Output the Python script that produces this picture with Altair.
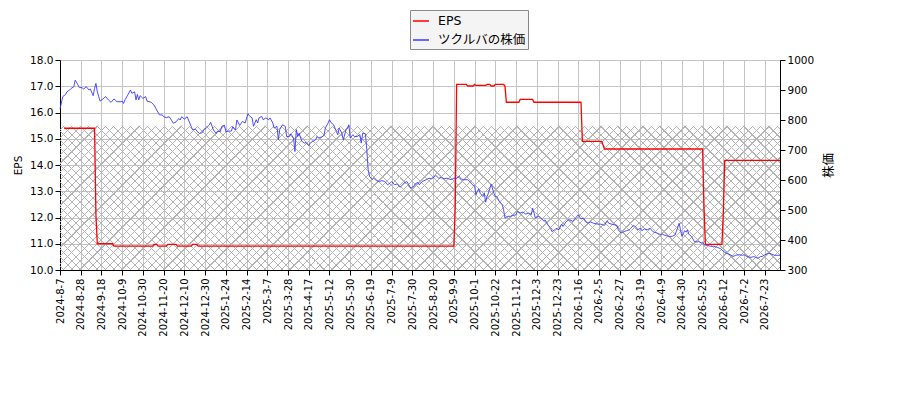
import json

import altair as alt
import numpy as np
import pandas as pd

# one tick label every 15 trading sessions, starting at session 0
tick_labels = [
    "2024-8-7", "2024-8-28", "2024-9-18", "2024-10-9", "2024-10-30",
    "2024-11-20", "2024-12-10", "2024-12-30", "2025-1-24", "2025-2-14",
    "2025-3-7", "2025-3-28", "2025-4-17", "2025-5-12", "2025-5-30",
    "2025-6-19", "2025-7-9", "2025-7-30", "2025-8-20", "2025-9-9",
    "2025-10-1", "2025-10-22", "2025-11-12", "2025-12-3", "2025-12-23",
    "2026-1-16", "2026-2-5", "2026-2-27", "2026-3-19", "2026-4-9",
    "2026-4-30", "2026-5-25", "2026-6-12", "2026-7-2", "2026-7-23",
]
tick_step = 15
last_day = 521

series_names = ["EPS", "ツクルバの株価"]

eps_day = [3, 25, 26, 27, 38, 39, 67, 68, 70, 71, 77, 78, 84, 85, 95, 96,
           99, 100, 285, 286, 287, 294, 295, 299, 300, 301, 308, 309, 311,
           312, 314, 315, 321, 322, 323, 332, 333, 342, 343, 377, 378, 392,
           394, 465, 466, 467, 479, 480, 481, 521]
eps_value = [15.4, 15.4, 12.1, 11.0, 11.0, 10.91, 10.91, 10.98, 10.98, 10.91,
             10.91, 10.98, 10.98, 10.91, 10.91, 10.98, 10.98, 10.91, 10.91,
             12.4, 17.07, 17.07, 17.01, 17.01, 17.07, 17.03, 17.03, 17.07,
             17.07, 17.01, 17.01, 17.07, 17.07, 17.0, 16.39, 16.39, 16.5,
             16.5, 16.39, 16.39, 14.9, 14.9, 14.61, 14.61, 12.4, 10.98,
             10.98, 12.2, 14.18, 14.18]

price_day = [
    0, 2, 4, 5, 7, 8, 10, 11, 13, 14, 16, 17, 19, 21, 22, 24, 25, 26, 27, 29,
    31, 33, 35, 37, 39, 40, 41, 44, 45, 46, 47, 49, 51, 52, 54, 55, 56, 57, 58,
    60, 62, 63, 66, 68, 70, 72, 74, 75, 77, 79, 81, 82, 84, 86, 87, 88, 90, 92,
    93, 95, 96, 98, 99, 101, 103, 104, 106, 108, 109, 111, 113, 114, 116, 117,
    119, 120, 122, 124, 125, 127, 128, 130, 132, 134, 136, 137, 139, 140, 142,
    143, 144, 146, 147, 149, 151, 152, 154, 155, 157, 158, 159, 161, 163, 164,
    166, 167, 169, 170, 171, 172, 173, 175, 177, 178, 180, 181, 183, 185, 186,
    187, 189, 191, 192, 194, 195, 196, 198, 200, 201, 202, 204, 205, 207, 208,
    209, 210, 212, 213, 215, 217, 218, 219, 221, 222, 223, 224, 226, 227, 229,
    231, 233, 235, 237, 239, 240, 242, 244, 246, 248, 249, 251, 253, 254, 256,
    257, 259, 260, 262, 265, 267, 269, 272, 274, 276, 278, 280, 283, 285, 287,
    289, 290, 292, 295, 297, 298, 300, 301, 302, 303, 304, 306, 307, 308, 309,
    310, 312, 314, 315, 316, 318, 320, 321, 322, 324, 326, 328, 330, 331, 333,
    335, 337, 339, 341, 342, 343, 344, 346, 348, 350, 351, 353, 355, 356, 358,
    359, 361, 363, 364, 366, 368, 369, 371, 373, 375, 377, 379, 380, 382, 384,
    386, 389, 391, 394, 396, 397, 399, 401, 403, 404, 406, 408, 410, 412, 413,
    415, 417, 418, 420, 421, 423, 425, 427, 429, 430, 432, 434, 436, 437, 439,
    441, 443, 445, 446, 448, 449, 450, 452, 453, 454, 455, 457, 459, 461, 462,
    464, 465, 466, 468, 471, 473, 476, 478, 480, 482, 485, 487, 489, 491, 494,
    495, 497, 500, 502, 505, 507, 508, 511, 513, 515, 517, 519, 521,
]
price_value = [
    837, 878, 885, 894, 900, 905, 911, 933, 917, 908, 908, 903, 911, 900, 903,
    881, 905, 922, 894, 863, 870, 878, 867, 859, 870, 867, 861, 861, 863, 855,
    867, 883, 900, 889, 894, 867, 885, 867, 881, 872, 878, 863, 859, 850, 833,
    817, 817, 811, 808, 811, 797, 789, 794, 805, 800, 811, 803, 811, 800, 778,
    767, 770, 763, 755, 758, 767, 774, 783, 792, 767, 755, 763, 761, 778, 783,
    761, 763, 763, 778, 767, 800, 782, 795, 790, 821, 814, 807, 779, 801, 790,
    807, 812, 801, 807, 801, 807, 790, 773, 779, 734, 768, 784, 779, 745, 745,
    754, 740, 695, 768, 745, 756, 729, 723, 725, 714, 723, 729, 734, 745, 740,
    743, 748, 773, 790, 801, 792, 784, 762, 751, 773, 756, 734, 768, 773, 784,
    740, 751, 745, 745, 751, 723, 756, 754, 701, 634, 612, 601, 606, 598, 595,
    598, 595, 584, 590, 595, 584, 587, 576, 584, 590, 595, 579, 573, 579, 587,
    592, 584, 595, 601, 606, 604, 615, 606, 608, 604, 606, 601, 606, 606, 612,
    604, 601, 601, 593, 586, 579, 551, 562, 571, 556, 545, 556, 526, 545, 556,
    586, 556, 545, 545, 528, 517, 501, 473, 479, 479, 482, 484, 495, 490, 493,
    486, 490, 484, 506, 490, 473, 479, 473, 464, 467, 451, 439, 428, 434, 439,
    434, 453, 445, 460, 467, 467, 462, 473, 484, 470, 473, 462, 456, 460, 456,
    453, 453, 449, 464, 456, 453, 451, 449, 434, 423, 428, 431, 434, 439, 449,
    442, 434, 439, 431, 437, 434, 439, 428, 426, 423, 419, 419, 417, 414, 412,
    412, 417, 428, 456, 434, 412, 431, 426, 434, 419, 412, 395, 393, 395, 390,
    393, 384, 382, 379, 379, 375, 371, 362, 356, 351, 345, 349, 351, 349, 351,
    345, 342, 345, 339, 345, 345, 353, 356, 353, 349, 349, 349,
]

# shaded band on the EPS axis
band_low = 10.0
band_high = 15.5

PLOT_W, PLOT_H = 720, 210
EPS_DOMAIN = [10, 18]
PRICE_DOMAIN = [300, 1000]
FONT = "DejaVu Sans"
CJK_FONT = FONT + ", Noto Sans CJK JP"
CLEAR = "rgba(255,255,255,0)"
HATCH = "#b4b4b4"
HATCH_STEP = 8.4


def hatch_gradient(rising):
    """Striped linear gradient that draws one family of 45 degree lines."""
    band_h = PLOT_H * (band_high - band_low) / (EPS_DOMAIN[1] - EPS_DOMAIN[0])
    k = band_h / PLOT_W
    s = (1 + k) / (1 + k * k)
    span = PLOT_W + band_h
    half = 0.6 / span
    stops = [alt.GradientStop(offset=0, color=CLEAR)]
    for c in np.arange(HATCH_STEP / 2, span - 1, HATCH_STEP):
        t = c / span
        lo, hi = round(float(t - half), 6), round(float(t + half), 6)
        stops += [
            alt.GradientStop(offset=lo, color=CLEAR),
            alt.GradientStop(offset=lo, color=HATCH),
            alt.GradientStop(offset=hi, color=HATCH),
            alt.GradientStop(offset=hi, color=CLEAR),
        ]
    stops.append(alt.GradientStop(offset=1, color=CLEAR))
    if rising:
        return alt.LinearGradient(gradient="linear", stops=stops,
                                  x1=0, y1=1, x2=s, y2=round(1 - s * k, 6))
    return alt.LinearGradient(gradient="linear", stops=stops,
                              x1=0, y1=0, x2=s, y2=round(s * k, 6))


eps_df = pd.DataFrame({"day": eps_day, "value": eps_value, "series": series_names[0]})
price_df = pd.DataFrame({"day": price_day, "value": price_value, "series": series_names[1]})
band_df = pd.DataFrame({"x0": [0], "x1": [last_day], "lo": [band_low], "hi": [band_high]})

x_scale = alt.Scale(domain=[0, last_day], nice=False, zero=False)
eps_scale = alt.Scale(domain=EPS_DOMAIN, nice=False, zero=False)
price_scale = alt.Scale(domain=PRICE_DOMAIN, nice=False, zero=False)

color = alt.Color(
    "series:N",
    scale=alt.Scale(domain=series_names, range=["#ff0000", "#3a3aff"]),
    legend=alt.Legend(
        title=None, orient="none", legendX=350, legendY=-50,
        direction="vertical", symbolType="stroke", symbolSize=256,
        symbolStrokeWidth=1.5, labelFontSize=12.5, labelFont=CJK_FONT,
        fillColor="#f4f4f4", strokeColor="#8a8a8a", padding=2,
        rowPadding=3, labelOffset=8, cornerRadius=0,
    ),
)

label_expr = f"{json.dumps(tick_labels, ensure_ascii=False)}[round(datum.value / {tick_step})]"

x_axis = alt.Axis(
    values=list(range(0, last_day, tick_step)), labelExpr=label_expr,
    labelAngle=270, labelAlign="right", labelBaseline="middle",
    labelFontSize=10, labelPadding=3, labelOverlap=False, labelFlush=False,
    title=None, grid=True,
)
eps_axis = alt.Axis(
    title="EPS", values=list(range(10, 19)), format=".1f", grid=True,
    labelFontSize=10.5, titleFontSize=10.5, titlePadding=6,
)
price_axis = alt.Axis(
    title="株価", orient="right", values=list(range(300, 1001, 100)),
    format="d", grid=False, labelFontSize=10.5, titleFontSize=12.5,
    titleAngle=270, titlePadding=22, titleFont=CJK_FONT,
)

hatch_layers = [
    alt.Chart(band_df).mark_rect(color=hatch_gradient(rising)).encode(
        x=alt.X("x0:Q", scale=x_scale, axis=x_axis),
        x2="x1",
        y=alt.Y("lo:Q", scale=eps_scale, axis=eps_axis),
        y2="hi",
    )
    for rising in (False, True)
]

eps_line = alt.Chart(eps_df).mark_line(strokeWidth=1.3).encode(
    x=alt.X("day:Q", scale=x_scale, axis=x_axis),
    y=alt.Y("value:Q", scale=eps_scale, axis=eps_axis),
    color=color,
)

price_line = alt.Chart(price_df).mark_line(strokeWidth=0.9).encode(
    x=alt.X("day:Q", scale=x_scale, axis=x_axis),
    y=alt.Y("value:Q", scale=price_scale, axis=price_axis),
    color=color,
)

chart = alt.layer(
    alt.layer(*hatch_layers, eps_line), price_line
).resolve_scale(
    y="independent"
).properties(
    width=PLOT_W, height=PLOT_H, autosize="none",
    padding={"left": 52, "top": 52, "right": 110, "bottom": 130},
).configure_axis(
    labelFont=FONT, titleFont=FONT, labelColor="black", titleColor="black",
    titleFontWeight="normal", domainColor="black", tickColor="black",
    tickSize=5, gridColor="#c4c4c4", gridWidth=1,
).configure_view(
    stroke="black", strokeWidth=1,
)

chart.save("out.html", embed_options={"renderer": "svg", "actions": False})
